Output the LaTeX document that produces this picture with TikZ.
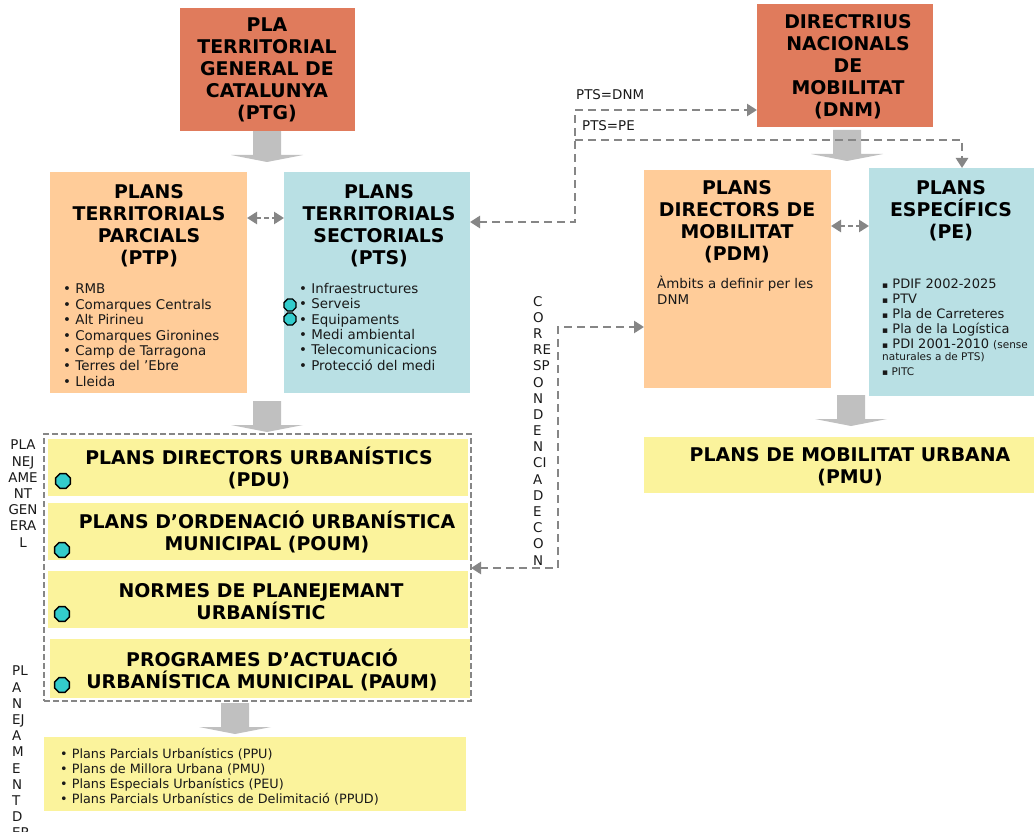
\documentclass[tikz,border=0pt]{standalone}
\usepackage{fontspec}
\setmainfont{DejaVu Sans}
\usetikzlibrary{arrows.meta,shapes.geometric,shapes.arrows}
\definecolor{redbox}{HTML}{E07B5C}
\definecolor{orangebox}{HTML}{FFCC99}
\definecolor{bluebox}{HTML}{B9E0E4}
\definecolor{yellowbox}{HTML}{FBF39C}
\definecolor{blockgray}{HTML}{C0C0C0}
\definecolor{dashgray}{HTML}{868686}
\definecolor{teal2}{HTML}{33CCCC}
\tikzset{
 x=1pt,y=-1pt,
 boxnode/.style={draw=none,inner sep=0pt,outer sep=0pt},
 title/.style={inner sep=0pt,align=center,font=\bfseries\fontsize{18.9}{22}\selectfont,text=black},
 listtext/.style={inner sep=0pt,align=left,anchor=north west,font=\fontsize{13.4}{15.4}\selectfont,text=black!90},
 smalltext/.style={inner sep=0pt,font=\fontsize{13.4}{16.18}\selectfont,text=black!90},
 dashline/.style={draw=dashgray,line width=2.6pt,dash pattern=on 8pt off 5pt},
 dashtip/.style={-{Triangle[length=10pt,width=12pt,fill=dashgray]}},
 dashboth/.style={{Triangle[length=10pt,width=12pt,fill=dashgray]}-{Triangle[length=10pt,width=12pt,fill=dashgray]}},
 dot/.style={regular polygon,regular polygon sides=8,fill=teal2,draw=black,line width=1.4pt,inner sep=0pt,minimum size=16pt,outer sep=0pt},
 smalldot/.style={dot,minimum size=13pt},
}
\newcommand{\blockarrow}[3]{% name, centre x, top y
 \fill[blockgray] (#2-14,#3) -- (#2+14,#3) -- (#2+14,#3+24) -- (#2+36,#3+24) -- (#2,#3+31) -- (#2-36,#3+24) -- (#2-14,#3+24) -- cycle;
}
\newcommand{\boxat}[6]{% name,x1,y1,x2,y2,colour
 \path[fill=#6] (#2,#3) rectangle (#4,#5);
 \node[boxnode,minimum width={(#4-#2)*1pt},minimum height={(#5-#3)*1pt}] (#1) at ({(#2+#4)/2},{(#3+#5)/2}) {};
}
\newcommand{\sq}{{\fontsize{9}{9}\selectfont ▪}}
\begin{document}
\begin{tikzpicture}
\useasboundingbox (0,0) rectangle (1034,832);
\clip (0,0) rectangle (1034,832);
\fill[white] (0,0) rectangle (1034,832);
% block arrows
\blockarrow{a1}{267}{131}
\blockarrow{a2}{267}{401}
\blockarrow{a3}{235}{703}
\blockarrow{a4}{847}{130}
\blockarrow{a5}{851}{395}
% boxes
\boxat{ptg}{180}{8}{355}{131}{redbox}
\boxat{dnm}{757}{4}{933}{127}{redbox}
\boxat{ptp}{50}{172}{247}{393}{orangebox}
\boxat{pts}{284}{172}{470}{393}{bluebox}
\boxat{pdm}{644}{170}{831}{388}{orangebox}
\boxat{pe}{869}{168}{1034}{396}{bluebox}
\boxat{pmu}{644}{437}{1034}{493}{yellowbox}
\boxat{pdu}{48}{439}{468}{496}{yellowbox}
\boxat{poum}{48}{503}{468}{560}{yellowbox}
\boxat{normes}{48}{571}{468}{628}{yellowbox}
\boxat{paum}{50}{639}{470}{698}{yellowbox}
\boxat{deriv}{44}{737}{466}{811}{yellowbox}
\node[boxnode,draw=dashgray,line width=2pt,dash pattern=on 6pt off 3pt,minimum width=427pt,minimum height=267pt] (general) at (257.5,567.5) {};
% titles
\node[title] (tptg) at (267,70) {PLA\\TERRITORIAL\\GENERAL DE\\CATALUNYA\\(PTG)};
\node[title] (tdnm) at (848,66.5) {DIRECTRIUS\\NACIONALS\\DE\\MOBILITAT\\(DNM)};
\node[title] (tptp) at (149,226) {PLANS\\TERRITORIALS\\PARCIALS\\(PTP)};
\node[title] (tpts) at (379,226) {PLANS\\TERRITORIALS\\SECTORIALS\\(PTS)};
\node[title] (tpdm) at (737,222) {PLANS\\DIRECTORS DE\\MOBILITAT\\(PDM)};
\node[title] (tpe) at (951,210.5) {PLANS\\ESPECÍFICS\\(PE)};
\node[title] (tpmu) at (850,466.5) {PLANS DE MOBILITAT URBANA\\(PMU)};
\node[title] (tpdu) at (259,468) {PLANS DIRECTORS URBANÍSTICS\\(PDU)};
\node[title] (tpoum) at (267,532) {PLANS D’ORDENACIÓ URBANÍSTICA\\MUNICIPAL (POUM)};
\node[title] (tnormes) at (261,602) {NORMES DE PLANEJEMANT\\URBANÍSTIC};
\node[title] (tpaum) at (262,670) {PROGRAMES D’ACTUACIÓ\\URBANÍSTICA MUNICIPAL (PAUM)};
% lists
\node[listtext] (lptp) at (63,284) {• RMB\\• Comarques Centrals\\• Alt Pirineu\\• Comarques Gironines\\• Camp de Tarragona\\• Terres del ’Ebre\\• Lleida};
\node[listtext] (lpts) at (299,283) {• Infraestructures\\• Serveis\\• Equipaments\\• Medi ambiental\\• Telecomunicacions\\• Protecció del medi};
\node[listtext] (lpdm) at (657,276) {Àmbits a definir per les\\DNM};
\node[listtext,font=\fontsize{13}{15}\selectfont] (lpe) at (882,279) {\sq\ PDIF 2002-2025\\\sq\ PTV\\\sq\ Pla de Carreteres\\\sq\ Pla de la Logística\\\sq\ PDI 2001-2010 {\fontsize{10.5}{10}\selectfont (sense}\\[-3pt]{\fontsize{10.5}{10}\selectfont naturales a de PTS)}\\{\fontsize{10.5}{10}\selectfont \sq\ PITC}};
\node[listtext,font=\fontsize{12.8}{15}\selectfont] (lderiv) at (60,748) {• Plans Parcials Urbanístics (PPU)\\• Plans de Millora Urbana (PMU)\\• Plans Especials Urbanístics (PEU)\\• Plans Parcials Urbanístics de Delimitació (PPUD)};
% side labels
\node[smalltext,align=center,anchor=north] (lgen) at (23,440) {PLA\\NEJ\\AME\\NT\\GEN\\ERA\\L};
\node[smalltext,align=left,anchor=north west] (lder) at (12,666) {PL\\A\\N\\EJ\\A\\M\\E\\N\\T\\D\\ER};
\node[smalltext,align=left,anchor=north west] (lcor) at (533,296) {C\\O\\R\\RE\\SP\\O\\N\\D\\E\\N\\CI\\A\\D\\E\\C\\O\\N};
\node[smalltext,anchor=west] (ldnm) at (576,95) {PTS=DNM};
\node[smalltext,anchor=west] (lpe2) at (582,126) {PTS=PE};
% dots
\node[dot] (d1) at (63,481) {};
\node[dot] (d2) at (62,550) {};
\node[dot] (d3) at (62,614) {};
\node[dot] (d4) at (62,685) {};
\node[smalldot] (d5) at (290,305) {};
\node[smalldot] (d6) at (290,319) {};
% connectors
\coordinate (j1) at (575,222);
\coordinate (j2) at (575,110);
\coordinate (j3) at (575,140);
\coordinate (j4) at (962,140);
\coordinate (j5) at (558,568);
\coordinate (j6) at (558,327);
\draw[dashline,dashboth] (pts.east |- j1) -- (j1) -- (j2) -- (dnm.west |- j2);
\draw[dashline,dashtip] (j3) -- (j4) -- (j4 |- pe.north);
\draw[dashline,dashboth] (general.east |- j5) -- (j5) -- (j6) -- (pdm.west |- j6);
\draw[dashline,dash pattern=on 5pt off 3pt,dashboth] (ptp.east |- 0,218) -- (pts.west |- 0,218);
\draw[dashline,dash pattern=on 5pt off 3pt,dashboth] (pdm.east |- 0,226) -- (pe.west |- 0,226);
\end{tikzpicture}
\end{document}
